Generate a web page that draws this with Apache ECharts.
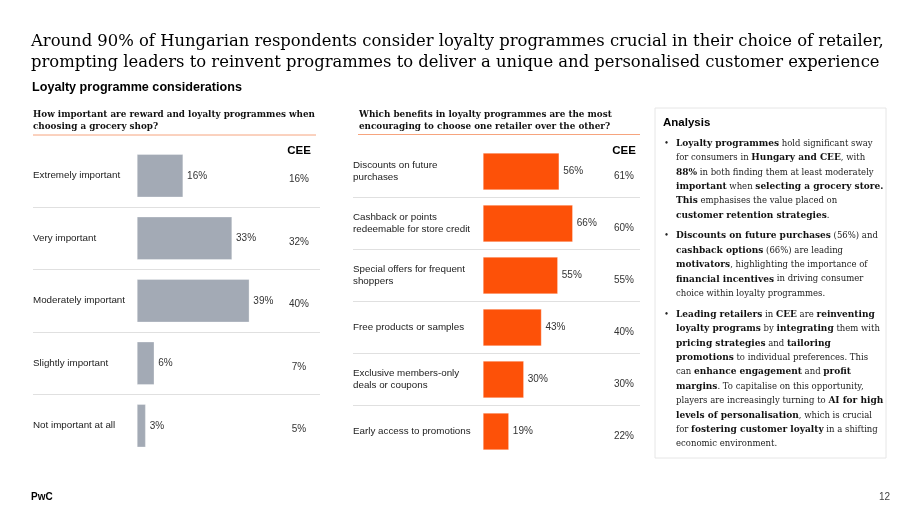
<!DOCTYPE html>
<html>
<head>
<meta charset="utf-8">
<script src="https://cdn.jsdelivr.net/npm/echarts@6/dist/echarts.min.js"></script>
<style>
html,body{margin:0;padding:0;background:#fff;}
#main{width:920px;height:518px;}
</style>
</head>
<body>
<div id="main"></div>
<script>
// ---- Data ----
const importanceCategories = ['Extremely important', 'Very important', 'Moderately important', 'Slightly important', 'Not important at all'];
const importanceHungary = [16, 33, 39, 6, 3];
const importanceCEE = [16, 32, 40, 7, 5];

const benefitCategories = ['Discounts on future\npurchases', 'Cashback or points\nredeemable for store credit', 'Special offers for frequent\nshoppers', 'Free products or samples', 'Exclusive members-only\ndeals or coupons', 'Early access to promotions'];
const benefitHungary = [56, 66, 55, 43, 30, 19];
const benefitCEE = [61, 60, 55, 40, 30, 22];

const titleLines = [
  'Around 90% of Hungarian respondents consider loyalty programmes crucial in their choice of retailer,',
  'prompting leaders to reinvent programmes to deliver a unique and personalised customer experience'
];
const subtitle = 'Loyalty programme considerations';
const q1Lines = ['How important are reward and loyalty programmes when', 'choosing a grocery shop?'];
const q2Lines = ['Which benefits in loyalty programmes are the most', 'encouraging to choose one retailer over the other?'];
const analysisParagraphs = [
  ['{b|Loyalty programmes} hold significant sway',
   'for consumers in {b|Hungary and CEE}, with',
   '{b|88%} in both finding them at least moderately',
   '{b|important} when {b|selecting a grocery store.}',
   '{b|This} emphasises the value placed on',
   '{b|customer retention strategies}.'],
  ['{b|Discounts on future purchases} (56%) and',
   '{b|cashback options} (66%) are leading',
   '{b|motivators}, highlighting the importance of',
   '{b|financial incentives} in driving consumer',
   'choice within loyalty programmes.'],
  ['{b|Leading retailers} in {b|CEE} are {b|reinventing}',
   '{b|loyalty programs} by {b|integrating} them with',
   '{b|pricing strategies} and {b|tailoring}',
   '{b|promotions} to individual preferences. This',
   'can {b|enhance engagement} and {b|profit}',
   '{b|margins}. To capitalise on this opportunity,',
   'players are increasingly turning to {b|AI for high}',
   '{b|levels of personalisation}, which is crucial',
   'for {b|fostering customer loyalty} in a shifting',
   'economic environment.']
];

// ---- Layout ----
const SANS = '"Liberation Sans", Arial, sans-serif';
const SERIF = '"DejaVu Serif", Georgia, serif';
const GREY_BAR = '#a3aab5';
const ORANGE = '#fd5108';

const L = {left: 33, top: 144.5, width: 287, height: 312.5, barStart: 137, pxPerPct: 2.88, ceeX: 299};
const M = {left: 353, top: 145.5, width: 287, height: 312, barStart: 483, pxPerPct: 1.36, ceeX: 624};
function xMin(g){ return -(g.barStart - g.left) / g.pxPerPct; }
function xMax(g){ return (g.left + g.width - g.barStart) / g.pxPerPct; }

const chart = echarts.init(document.getElementById('main'), null, {renderer: 'canvas'});

function catAxis(gridIndex, data, fontSize, lineHeight){
  return {
    type: 'category', gridIndex: gridIndex, inverse: true, data: data,
    axisLine: {show: false}, axisTick: {show: false},
    axisLabel: {inside: true, margin: 0, interval: 0, fontFamily: SANS, fontSize: fontSize, color: '#222', lineHeight: lineHeight, align: 'left'},
    splitLine: {show: true, showMinLine: false, showMaxLine: false, lineStyle: {color: '#e0e0e0', width: 1}}
  };
}
function ceeAxis(gridIndex, data, g, padTop){
  return {
    type: 'category', gridIndex: gridIndex, inverse: true, position: 'right',
    offset: g.ceeX - (g.left + g.width),
    data: data.map(v => v + '%'),
    axisLine: {show: false}, axisTick: {show: false}, splitLine: {show: false},
    axisLabel: {margin: 0, interval: 0, align: 'center',
      formatter: v => '{v|' + v + '}',
      rich: {v: {fontFamily: SANS, fontSize: 10, color: '#333', padding: [padTop, 0, 0, 0]}}}
  };
}
function barSeries(idx, data, color, width){
  return {
    type: 'bar', xAxisIndex: idx, yAxisIndex: idx * 2, data: data, barWidth: width,
    itemStyle: {color: color, borderColor: 'rgba(255,255,255,0.6)', borderWidth: 0.5},
    label: {show: true, position: 'right', distance: 4, formatter: '{c}%', fontFamily: SANS, fontSize: 10, color: '#333'},
    silent: true, animation: false
  };
}

const graphics = [];
function txt(x, y, text, font, opts){
  graphics.push(Object.assign({type: 'text', x: x, y: y, silent: true,
    style: Object.assign({text: text, font: font, fill: '#000', textAlign: 'left', textVerticalAlign: 'middle'}, opts || {})}));
}
// Title
txt(31, 41.5, titleLines[0], '16.4px ' + SERIF);
txt(31, 62.5, titleLines[1], '16.4px ' + SERIF);
txt(32, 88, subtitle, 'bold 12.6px ' + SANS);
// Questions
txt(33, 114.5, q1Lines[0], 'bold 8.8px ' + SERIF, {fill: '#111'});
txt(33, 126.5, q1Lines[1], 'bold 8.8px ' + SERIF, {fill: '#111'});
txt(359, 114.5, q2Lines[0], 'bold 8.8px ' + SERIF, {fill: '#111'});
txt(359, 126.5, q2Lines[1], 'bold 8.8px ' + SERIF, {fill: '#111'});
graphics.push({type: 'line', silent: true, shape: {x1: 33, y1: 135, x2: 316, y2: 135}, style: {stroke: '#f6a47e', lineWidth: 1}});
graphics.push({type: 'line', silent: true, shape: {x1: 358, y1: 134.5, x2: 640, y2: 134.5}, style: {stroke: '#f6a47e', lineWidth: 1}});
// CEE headers
txt(L.ceeX, 150.5, 'CEE', 'bold 11.5px ' + SANS, {textAlign: 'center'});
txt(M.ceeX, 150.5, 'CEE', 'bold 11.5px ' + SANS, {textAlign: 'center'});
// Analysis panel
graphics.push({type: 'rect', silent: true, shape: {x: 655, y: 108, width: 231, height: 350}, style: {fill: '#fff', stroke: '#e6e6e6', lineWidth: 1}});
txt(663, 123, 'Analysis', 'bold 11.5px ' + SANS);
const paraTops = [143.5, 236, 314.5];
const LH = 14.4;
analysisParagraphs.forEach((lines, p) => {
  txt(664, paraTops[p], '•', '8.5px ' + SERIF, {fill: '#222'});
  lines.forEach((ln, i) => {
    txt(676, paraTops[p] + i * LH, ln, '8.5px ' + SERIF, {fill: '#222', rich: {b: {fontWeight: 'bold', fontFamily: SERIF, fontSize: 9, fill: '#111'}}});
  });
});
// Footer
txt(31, 497, 'PwC', 'bold 10px ' + SANS);
txt(890, 497, '12', '10px ' + SANS, {textAlign: 'right', fill: '#444'});

chart.setOption({
  animation: false,
  backgroundColor: '#fff',
  grid: [
    {left: L.left, top: L.top, width: L.width, height: L.height, containLabel: false},
    {left: M.left, top: M.top, width: M.width, height: M.height, containLabel: false}
  ],
  xAxis: [
    {type: 'value', gridIndex: 0, min: xMin(L), max: xMax(L), show: false},
    {type: 'value', gridIndex: 1, min: xMin(M), max: xMax(M), show: false}
  ],
  yAxis: [
    catAxis(0, importanceCategories, 9.8, 12),
    ceeAxis(0, importanceCEE, L, 7),
    catAxis(1, benefitCategories, 9.8, 12),
    ceeAxis(1, benefitCEE, M, 9)
  ],
  series: [
    barSeries(0, importanceHungary, GREY_BAR, 43),
    barSeries(1, benefitHungary, ORANGE, 37)
  ],
  graphic: {elements: graphics}
});
</script>
</body>
</html>
